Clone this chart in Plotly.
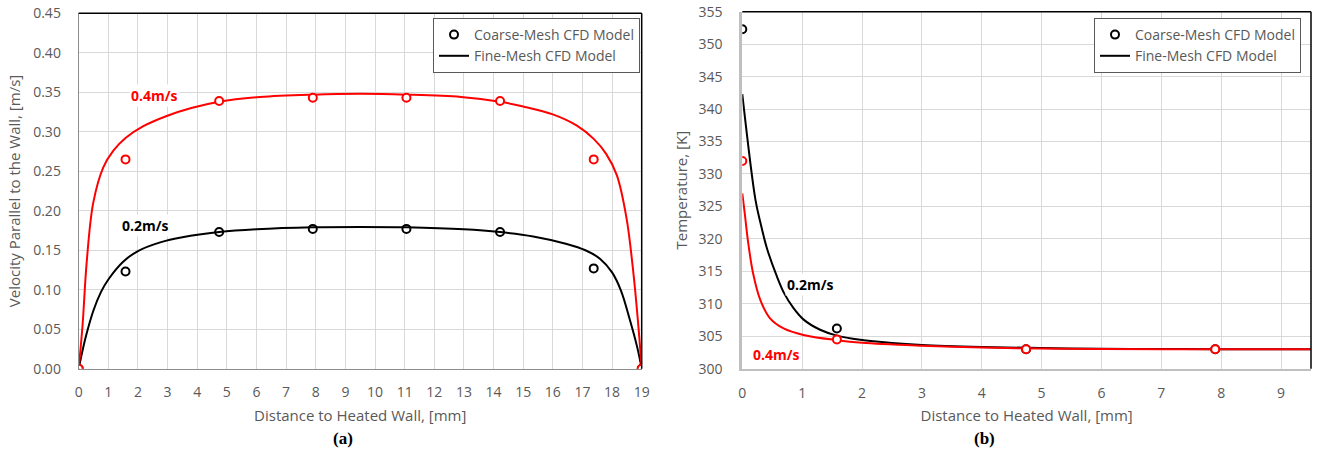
import plotly.graph_objects as go

# ---------------- data: (a) velocity ----------------
coarse_x_a = [0, 1.58, 4.74, 7.90, 11.06, 14.22, 17.38, 19.0]
coarse_02_a = [0, 0.123, 0.173, 0.177, 0.177, 0.173, 0.127, 0]
coarse_04_a = [0, 0.265, 0.339, 0.343, 0.343, 0.339, 0.265, 0]

fine_x_02_a = [0, 0.1, 0.25, 0.5, 0.75, 1.0, 1.5, 2.0, 2.75, 3.5, 4.74, 6.0, 7.9,
               9.5, 11.06, 13.0, 14.22, 15.34, 16.47, 17.1, 17.6, 18.0, 18.3, 18.6,
               18.85, 19.0]
fine_02_a = [0, 0.018, 0.042, 0.074, 0.097, 0.113, 0.1355, 0.149, 0.160, 0.1665, 0.173,
             0.1765, 0.179, 0.1795, 0.179, 0.1765, 0.173, 0.1675, 0.158, 0.150, 0.139,
             0.122, 0.099, 0.062, 0.027, 0]

fine_x_04_a = [0, 0.13, 0.27, 0.49, 0.83, 1.17, 1.58, 2.18, 2.97, 3.8, 4.74, 6.12, 7.9,
               9.5, 11.06, 12.9, 14.22, 15.0, 16.0, 16.8, 17.38, 17.8, 18.16, 18.49,
               18.72, 18.89, 19.0]
fine_04_a = [0, 0.055, 0.135, 0.210, 0.255, 0.276, 0.292, 0.307, 0.320, 0.330, 0.338,
             0.344, 0.347, 0.348, 0.347, 0.344, 0.338, 0.332, 0.322, 0.308, 0.291, 0.272,
             0.245, 0.190, 0.121, 0.053, 0]

# ---------------- data: (b) temperature ----------------
coarse_x_b = [0, 1.58, 4.74, 7.90]
coarse_02_b = [352.3, 306.2, 303.0, 303.0]
coarse_04_b = [332.0, 304.5, 303.0, 303.0]

fine_x_02_b = [0, 0.22, 0.30, 0.41, 0.57, 0.70, 0.85, 1.02, 1.3, 1.58, 1.97, 2.5, 3.0,
               4.0, 5.0, 6.0, 7.0, 8.0, 9.5]
fine_02_b = [342.3, 326.0, 322.6, 318.6, 314.4, 311.6, 309.4, 307.6, 306.0, 305.1, 304.45,
             303.95, 303.65, 303.35, 303.18, 303.08, 303.03, 303.0, 303.0]

fine_x_04_b = [0, 0.04, 0.10, 0.18, 0.30, 0.46, 0.69, 1.02, 1.58, 2.0, 3.0, 4.0, 5.0,
               6.0, 8.0, 9.5]
fine_04_b = [327.0, 324.0, 319.3, 314.7, 310.6, 307.8, 306.2, 305.2, 304.4, 304.0, 303.55,
             303.25, 303.1, 303.03, 303.0, 303.0]

legend_names = ["Coarse-Mesh CFD Model", "Fine-Mesh CFD Model"]
speed_labels = ["0.2m/s", "0.4m/s"]
panel_labels = ["(a)", "(b)"]

W, H = 1317, 466
BLACK = "#000000"
RED = "#ff0000"
GRAY_TXT = "#595959"
GRID = "#d9d9d9"
FONT = "Open Sans"

fig = go.Figure()

def coarse(x, y, color, xa, ya):
    return go.Scatter(x=x, y=y, mode="markers", xaxis=xa, yaxis=ya, showlegend=False,
                      marker=dict(symbol="circle", size=8, color="white",
                                  line=dict(color=color, width=2)),
                      hoverinfo="skip")

def fine(x, y, color, xa, ya):
    return go.Scatter(x=x, y=y, mode="lines", xaxis=xa, yaxis=ya, showlegend=False,
                      line=dict(color=color, width=2, shape="spline", smoothing=1.0),
                      hoverinfo="skip")

# panel (a)
fig.add_trace(coarse(coarse_x_a, coarse_02_a, BLACK, "x", "y"))
fig.add_trace(fine(fine_x_02_a, fine_02_a, BLACK, "x", "y"))
fig.add_trace(fine(fine_x_04_a, fine_04_a, RED, "x", "y"))
fig.add_trace(coarse(coarse_x_a, coarse_04_a, RED, "x", "y"))
# panel (b)
fig.add_trace(coarse(coarse_x_b, coarse_02_b, BLACK, "x2", "y2"))
fig.add_trace(fine(fine_x_02_b, fine_02_b, BLACK, "x2", "y2"))
fig.add_trace(fine(fine_x_04_b, fine_04_b, RED, "x2", "y2"))
fig.add_trace(coarse(coarse_x_b, coarse_04_b, RED, "x2", "y2"))

# legend entries
for lg, xa, ya in [("legend", "x", "y"), ("legend2", "x2", "y2")]:
    fig.add_trace(go.Scatter(x=[None], y=[None], mode="markers", name=legend_names[0],
                             legend=lg, xaxis=xa, yaxis=ya,
                             marker=dict(symbol="circle", size=8, color="white",
                                         line=dict(color=BLACK, width=2))))
    fig.add_trace(go.Scatter(x=[None], y=[None], mode="lines", name=legend_names[1],
                             legend=lg, xaxis=xa, yaxis=ya,
                             line=dict(color=BLACK, width=2)))

# geometry (screen pixels -> paper)
ax_l, ax_r = 78.7, 641.7
bx_l, bx_r = 742.3, 1311.0
y_bot = 368.7
ya_top, yb_top = 13.3, 11.7

def px(v):
    return v / W

def py(v):
    return (H - v) / H

tickfont = dict(family=FONT, size=14, color=GRAY_TXT)
titlefont = dict(family=FONT, size=15, color=GRAY_TXT)

common_x = dict(showgrid=True, gridcolor=GRID, gridwidth=1, zeroline=False, ticks="",
                tickfont=tickfont, showline=True, dtick=1, tick0=0, automargin=False,
                ticklabelstandoff=10, ticklabeloverflow="allow")
common_y = dict(showgrid=True, gridcolor=GRID, gridwidth=1, zeroline=False, ticks="",
                tickfont=tickfont, showline=True, ticklabelstandoff=14, automargin=False,
                ticklabeloverflow="allow")

fig.update_layout(
    width=W, height=H, margin=dict(l=0, r=0, t=0, b=0),
    paper_bgcolor="white", plot_bgcolor="white",
    font=dict(family=FONT, color=GRAY_TXT),
    xaxis=dict(common_x, domain=[px(ax_l), px(ax_r)], range=[0, 19], anchor="y",
               linecolor="#8c8c8c", linewidth=1,
               title=dict(text="Distance to Heated Wall, [mm]", font=titlefont, standoff=10)),
    yaxis=dict(common_y, domain=[py(y_bot), py(ya_top)], range=[0, 0.45001], dtick=0.05,
               tickformat=".2f", anchor="x", linecolor="#8c8c8c", linewidth=1,
               title=dict(text="Velocity Parallel to the Wall, [m/s]", font=titlefont,
                          standoff=8)),
    xaxis2=dict(common_x, domain=[px(bx_l), px(bx_r)], range=[0, 9.5], anchor="y2",
                linecolor="#bfbfbf", linewidth=2,
                title=dict(text="Distance to Heated Wall, [mm]", font=titlefont, standoff=10)),
    yaxis2=dict(common_y, domain=[py(y_bot), py(yb_top)], range=[300, 355.001], dtick=5,
                anchor="x2", linecolor="#bfbfbf", linewidth=3,
                title=dict(text="Temperature, [K]", font=titlefont, standoff=8)),
    legend=dict(x=px(640), y=py(18), xanchor="right", yanchor="top",
                bgcolor="white", bordercolor="#595959", borderwidth=1,
                font=dict(family=FONT, size=14, color=GRAY_TXT),
                itemwidth=30, tracegroupgap=0),
    legend2=dict(x=px(1301), y=py(18), xanchor="right", yanchor="top",
                 bgcolor="white", bordercolor="#595959", borderwidth=1,
                 font=dict(family=FONT, size=14, color=GRAY_TXT),
                 itemwidth=30, tracegroupgap=0),
)

# black top/right frame lines
for xr, yr in [("x domain", "y domain"), ("x2 domain", "y2 domain")]:
    fig.add_shape(type="line", xref=xr, yref=yr, x0=0, x1=1, y0=1, y1=1,
                  line=dict(color=BLACK, width=1.5), layer="above")
    fig.add_shape(type="line", xref=xr, yref=yr, x0=1, x1=1, y0=0, y1=1,
                  line=dict(color=BLACK, width=1.5), layer="above")

lab_font_b = dict(family=FONT, size=14, color=BLACK)
lab_font_r = dict(family=FONT, size=14, color=RED)
fig.add_annotation(x=2.57, y=0.3465, xref="x", yref="y", text="<b>%s</b>" % speed_labels[1],
                   showarrow=False, font=lab_font_r, bgcolor="white")
fig.add_annotation(x=2.24, y=0.181, xref="x", yref="y", text="<b>%s</b>" % speed_labels[0],
                   showarrow=False, font=lab_font_b, bgcolor="white")
fig.add_annotation(x=1.147, y=313.0, xref="x2", yref="y2", text="<b>%s</b>" % speed_labels[0],
                   showarrow=False, font=lab_font_b, bgcolor="white")
fig.add_annotation(x=0.575, y=302.26, xref="x2", yref="y2", text="<b>%s</b>" % speed_labels[1],
                   showarrow=False, font=lab_font_r, bgcolor="white")

panel_font = dict(family="Liberation Serif", size=17, color=BLACK)
fig.add_annotation(x=px(331), y=py(450), xref="paper", yref="paper",
                   text="<b>%s</b>" % panel_labels[0], showarrow=False, font=panel_font)
fig.add_annotation(x=px(997), y=py(450), xref="paper", yref="paper",
                   text="<b>%s</b>" % panel_labels[1], showarrow=False, font=panel_font)

fig.write_html("out.html", config={"displayModeBar": False},
               post_script="document.body.style.margin='0px';"
                           "document.body.style.overflow='hidden';")
